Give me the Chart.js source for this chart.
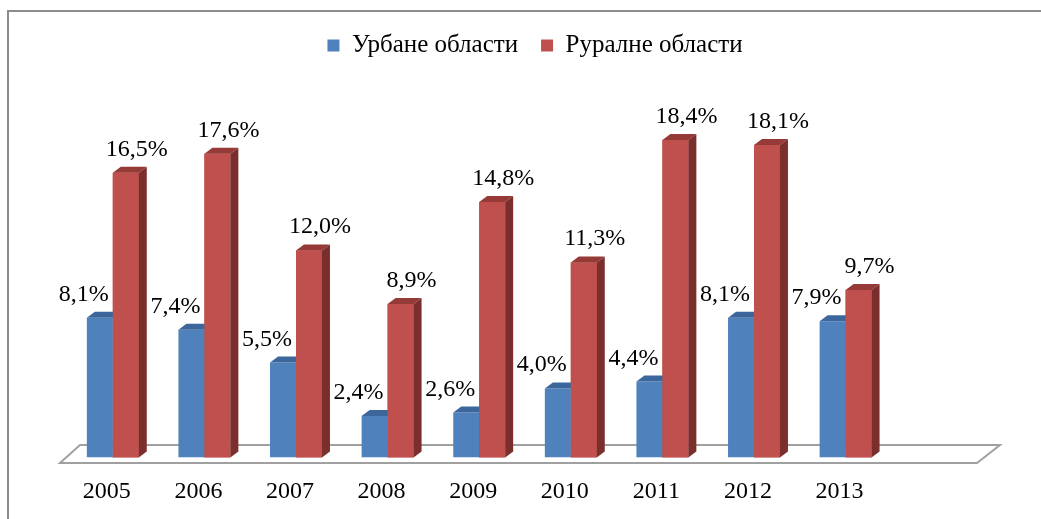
<!DOCTYPE html>
<html>
<head>
<meta charset="utf-8">
<script src="https://cdn.jsdelivr.net/npm/chart.js@4.4.0/dist/chart.umd.min.js"></script>
<style>
    html, body { margin: 0; padding: 0; background: #fff; }
    #wrap { width: 1041px; height: 519px; position: relative; }
</style>
</head>
<body>
<div id="wrap"><canvas id="chart" width="1041" height="519"></canvas></div>
<script>
// ============================================
// Data
// ============================================

const years = ['2005', '2006', '2007', '2008', '2009', '2010', '2011', '2012', '2013'];
const seriesNames = ['Урбане области', 'Руралне области'];
const urbanValues = [8.1, 7.4, 5.5, 2.4, 2.6, 4.0, 4.4, 8.1, 7.9];
const ruralValues = [16.5, 17.6, 12.0, 8.9, 14.8, 11.3, 18.4, 18.1, 9.7];

// ============================================
// Look
// ============================================

const FONT = "'Liberation Serif', 'Times New Roman', serif";
const faces = [
    { front: '#4f81bd', top: '#3c679c', side: '#385d8a' },
    { front: '#c0504d', top: '#963a37', side: '#7a2f2d' }
];
const DEPTH_X = 8;      // 3d depth of a bar
const DEPTH_Y = 6;
const ZERO_Y = 457.5;   // pixel row of value 0
const PX_PER_UNIT = 17.26;
const LEGEND_SHIFT = 10;

const fmt = v => v.toFixed(1).replace('.', ',') + '%';

// frame and floor behind the bars
const backdropPlugin = {
    id: 'backdrop',
    afterLayout(chart) {
        // legend sits a little right of the plot centre
        if (chart.legend) {
            chart.legend.left += LEGEND_SHIFT;
            chart.legend.right += LEGEND_SHIFT;
        }
    },
    beforeDraw(chart) {
        const ctx = chart.ctx;
        ctx.save();
        ctx.strokeStyle = '#8c8c8c';
        ctx.lineWidth = 2;
        ctx.strokeRect(8, 11, 1200, 700);
        ctx.restore();
    },
    beforeDatasetsDraw(chart) {
        const ctx = chart.ctx;
        const a = chart.chartArea;
        const y0 = chart.scales.y.getPixelForValue(0);
        ctx.save();
        ctx.strokeStyle = '#a0a0a0';
        ctx.lineWidth = 2;
        ctx.beginPath();
        ctx.moveTo(a.left - 7, y0 + 5.5);
        ctx.lineTo(a.right - 6, y0 + 5.5);
        ctx.lineTo(a.right + 17, y0 - 12.5);
        ctx.lineTo(a.left + 13, y0 - 12.5);
        ctx.closePath();
        ctx.stroke();
        ctx.restore();
    }
};

function drawFaces(ctx, bar, f) {
    const p = bar.getProps(['x', 'y', 'base', 'width'], true);
    const l = p.x - p.width / 2;
    const r = p.x + p.width / 2;

    ctx.fillStyle = f.top;
    ctx.beginPath();
    ctx.moveTo(l, p.y);
    ctx.lineTo(l + DEPTH_X, p.y - DEPTH_Y);
    ctx.lineTo(r + DEPTH_X, p.y - DEPTH_Y);
    ctx.lineTo(r, p.y);
    ctx.closePath();
    ctx.fill();

    ctx.fillStyle = f.side;
    ctx.beginPath();
    ctx.moveTo(r, p.y);
    ctx.lineTo(r + DEPTH_X, p.y - DEPTH_Y);
    ctx.lineTo(r + DEPTH_X, p.base - DEPTH_Y);
    ctx.lineTo(r, p.base);
    ctx.closePath();
    ctx.fill();
}

// 3d faces: urban first, then rural fronts again so they cover urban tops
const bar3dPlugin = {
    id: 'bar3d',
    afterDatasetsDraw(chart) {
        const ctx = chart.ctx;
        ctx.save();
        chart.getDatasetMeta(0).data.forEach(bar => drawFaces(ctx, bar, faces[0]));
        chart.getDatasetMeta(1).data.forEach(bar => {
            bar.draw(ctx, chart.chartArea);
            drawFaces(ctx, bar, faces[1]);
        });
        ctx.restore();

        // value labels
        const shifts = [-16, 11];
        ctx.save();
        ctx.font = '24px ' + FONT;
        ctx.fillStyle = '#000';
        ctx.textAlign = 'center';
        ctx.textBaseline = 'alphabetic';
        chart.data.datasets.forEach((ds, i) => {
            chart.getDatasetMeta(i).data.forEach((bar, j) => {
                ctx.fillText(fmt(ds.data[j]), bar.x + shifts[i], bar.y - 17);
            });
        });
        ctx.restore();
    }
};

const chart = new Chart(document.getElementById('chart'), {
    type: 'bar',
    data: {
        labels: [...years, ''],
        datasets: [
            {
                label: seriesNames[0],
                data: urbanValues,
                backgroundColor: faces[0].front,
                borderWidth: 0
            },
            {
                label: seriesNames[1],
                data: ruralValues,
                backgroundColor: faces[1].front,
                borderWidth: 0
            }
        ]
    },
    options: {
        responsive: false,
        animation: false,
        layout: { padding: { left: 67, right: 58, top: 10, bottom: 10 } },
        datasets: {
            bar: { categoryPercentage: 0.567, barPercentage: 1 }
        },
        plugins: {
            legend: {
                position: 'top',
                labels: {
                    boxWidth: 12,
                    boxHeight: 12,
                    padding: 23,
                    color: '#000',
                    font: { family: FONT, size: 25 }
                }
            },
            tooltip: { enabled: false }
        },
        scales: {
            x: {
                grid: { display: false, drawTicks: false },
                border: { display: false },
                ticks: {
                    color: '#000',
                    padding: 20,
                    labelOffset: -6,
                    font: { family: FONT, size: 24 }
                }
            },
            y: {
                display: false,
                min: 0,
                max: 20
            }
        }
    },
    plugins: [backdropPlugin, bar3dPlugin]
});

// pin value 0 and the unit size to the reference rows
(function fitValueScale() {
    chart.options.layout.padding.bottom += chart.chartArea.bottom - ZERO_Y;
    chart.update('none');
    const a = chart.chartArea;
    const min = -(a.bottom - ZERO_Y) / PX_PER_UNIT;
    chart.options.scales.y.min = min;
    chart.options.scales.y.max = min + (a.bottom - a.top) / PX_PER_UNIT;
    chart.update('none');
})();
</script>
</body>
</html>
